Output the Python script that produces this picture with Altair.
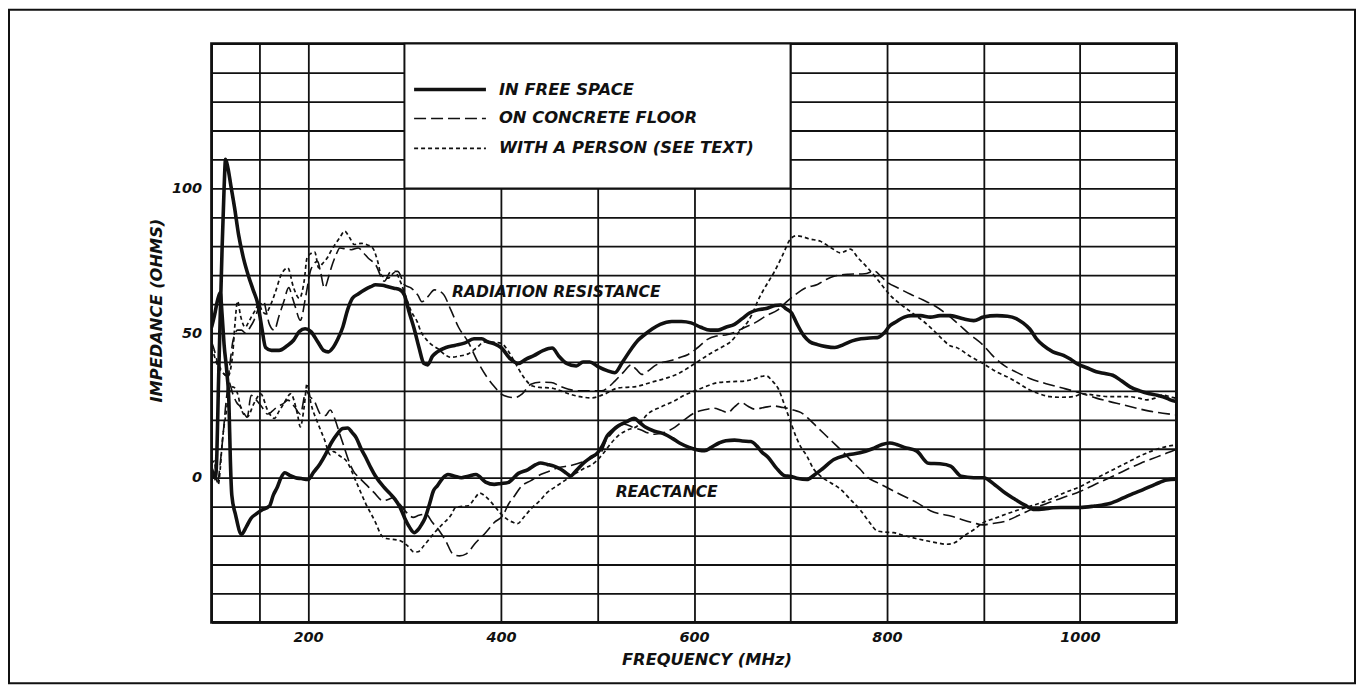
import altair as alt
import pandas as pd

# ---------------- data (frequency MHz, ohms) ----------------
r_free = [(100,3),(102,1),(104,0),(105.5,8),(107,30),(109,56),(111,80),(113,100),(114.5,110),(117,107),(120,101),(124,93),(128,84),(133,76),(138,70),(143,65),(148,60),(152,52),(156,45),(162,44),(170,44),(178,45.5),(185,47.5),(191,50.5),(197,51.5),(203,50.5),(210,47),(216,44),(221,43.5),(226,45),(231,48),(236,52),(241,58),(246,62),(252,63.5),(259,65),(265,66),(270,66.7),(277,66.5),(283,66),(289,65.5),(295,65),(300,63),(305,57),(310,51.5),(315,45),(320,39.5),(324,39),(329,42),(334,43.5),(343,45),(352,45.7),(362,46.5),(372,48),(380,48),(386,47),(393,46.3),(400,45),(410,41),(418,39.5),(426,41),(434,42.2),(444,44),(453,44.8),(460,42),(468,39.5),(478,38.6),(485,40),(492,40),(500,38.5),(510,37),(518,36.3),(526,40),(535,44.5),(542,47.5),(549,49.5),(557,51.5),(565,53),(577,54),(587,54),(597,53.5),(607,52),(617,51),(625,51),(633,52),(642,53),(650,55),(658,57),(666,58),(675,58.5),(684,59.5),(690,59.7),(695,58.5),(701,57),(707,53),(714,49),(720,47),(728,46),(737,45.3),(746,45),(755,46),(764,47.3),(773,48),(782,48.3),(790,48.4),(797,50),(803,52.5),(810,54),(818,55.5),(825,56),(835,56),(845,55.5),(855,56),(866,56),(878,55),(890,54.3),(900,55.5),(914,56),(925,55.8),(934,55),(941,53.5),(948,51.4),(955,48),(962,45.7),(972,43.5),(983,42.3),(990,41),(997,39.4),(1007,38),(1017,36.6),(1026,36),(1034,35.4),(1043,33.5),(1052,31.4),(1062,30),(1072,29),(1080,28.5),(1086,28),(1093,27),(1100,26.3)]

x_free = [(100,52),(103,56),(106,61),(109,64),(111,56),(113,46),(116,36),(118,26),(119.5,6),(121,-6),(125,-13),(131,-19.5),(136,-17),(141,-14),(146,-12.6),(153,-11),(160,-9.8),(164,-6),(168,-3.4),(172,0),(176,1.7),(181,0.8),(187,0),(193,-0.3),(200,-0.6),(206,2),(212,4.6),(218,8),(224,12),(230,15),(236,17),(241,17.2),(246,15.5),(250,13.8),(255,10),(260,6.9),(265,3.5),(270,0.5),(279,-3.4),(285,-5.5),(290,-7.4),(295,-10),(300,-13.8),(305,-17),(310,-19),(314,-18),(318,-16),(321,-14.2),(326,-9),(330,-4.5),(334,-2.8),(340,0),(345,1.1),(352,0.5),(359,0),(366,0.5),(374,1.1),(384,-1.5),(393,-2.3),(400,-2),(407,-1.7),(418,1.5),(428,2.8),(436,4.5),(441,5.1),(448,4.6),(455,4),(462,2.9),(468,1.5),(472,0.6),(478,2.5),(486,5.2),(493,7),(500,8.6),(505,11),(510,14.4),(516,16.5),(522,18),(531,19.5),(538,20.5),(544,19),(550,17.4),(560,16),(570,15),(578,13.5),(585,12),(595,10.5),(605,9.5),(611,9.3),(618,10.5),(626,12),(633,12.8),(642,13),(650,12.7),(659,12.5),(665,11),(670,9),(677,7),(685,3.5),(694,0.7),(700,0.5),(708,-0.3),(717,-0.6),(725,1),(733,3),(745,6.3),(758,7.8),(772,8.6),(785,10),(795,11.5),(803,12),(810,11.5),(818,10.5),(831,9.2),(843,5),(855,4.8),(866,4),(877,0.5),(890,0),(900,0),(912,-2.5),(923,-5.4),(933,-7.5),(943,-9.5),(953,-11),(963,-10.8),(972,-10.4),(980,-10.3),(990,-10.3),(1000,-10.3),(1015,-9.8),(1031,-8.9),(1045,-7),(1055,-5.5),(1065,-4.2),(1078,-2.3),(1090,-0.8),(1100,-0.5)]

r_concrete = [(100,47),(103,44),(106,40),(110,37.5),(114,35.5),(117,35),(120,42),(122,47),(127,51),(131,51),(135,50),(140,52),(144,54.4),(149,58.8),(154,61),(157,57),(160,53),(165,51),(170,56),(175,61),(180,65.7),(184,62),(187,58.8),(192,54.4),(198,63.4),(203,72),(210,74.8),(213,71),(217,65.5),(221,69),(224,72.5),(229,77),(233,79.4),(240,79),(245,78.8),(252,79.4),(258,77.5),(262,76),(270,73.6),(279,67.9),(286,71.3),(293,71.3),(300,66.7),(307,65.5),(314,63),(318,60.8),(324,62.5),(331,64.9),(336,64.5),(341,63.1),(348,58),(356,52),(366,46.9),(376,40),(385,35),(393,31.5),(400,29),(407,28),(414,27.7),(422,29),(431,32.3),(440,33),(452,32.9),(462,31.5),(470,30.6),(480,30),(490,30),(504,30),(512,31.5),(518,33.4),(527,36.5),(535,39),(540,37.5),(546,35.7),(553,37),(560,38.8),(566,39.7),(576,40.5),(585,41.5),(594,42.6),(604,45),(614,47.8),(624,49),(635,49.5),(644,50.5),(653,52),(663,53.5),(675,56),(687,58),(695,60.5),(704,63),(715,65.5),(728,66.8),(737,68.5),(746,69.7),(760,70.3),(777,70.5),(787,71.4),(794,69.5),(801,67.4),(812,65.5),(825,63.3),(837,61.5),(849,59.5),(860,57),(872,53.7),(886,49.5),(900,45.7),(910,42),(921,38.9),(934,36.5),(948,34.3),(965,32.5),(983,30.9),(1003,29),(1017,27.5),(1031,26.3),(1045,25.2),(1059,24),(1072,23),(1086,22.3),(1100,21.7)]

x_concrete = [(100,3),(103,0),(106,-2),(109,5),(112,15),(115,26),(118,33),(122,29),(126,26),(130,24.5),(137,21),(141,28.5),(146,27),(152,24.5),(158,22),(163,23),(168,24.5),(174,25.5),(179,26.8),(186,24.5),(192,22),(198,30),(202,28),(206,26.8),(213,22),(218,21.5),(223,23.4),(227,21),(232,16),(237,11),(242,6),(247,2.3),(253,0),(260,-2.3),(268,-5),(278,-8),(283,-7.5),(288,-6.9),(295,-9.1),(302,-12),(309,-13.7),(315,-13),(322,-12.6),(329,-15.5),(336,-18.3),(343,-22),(350,-26.3),(357,-27),(364,-26.3),(374,-22.4),(384,-19),(393,-15.5),(402,-13),(408,-9),(414,-6.3),(421,-3),(431,-1),(441,1.1),(448,2),(460,3.5),(472,4.2),(485,5.5),(495,7),(500,8),(504,8.9),(509,13),(514,15),(521,17.5),(528,18.5),(537,17.4),(546,16.4),(552,15.5),(559,15),(568,15.5),(580,17.4),(590,20),(601,22.5),(611,23.5),(621,24),(628,23.3),(635,22.5),(642,24.5),(649,26),(656,24.7),(663,23.7),(673,24.3),(683,24.8),(690,24.4),(697,24),(704,23.3),(711,22.5),(720,20),(728,17.4),(737,14.5),(746,11.6),(755,8.7),(763,5.9),(772,3),(780,0.1),(790,-1.7),(800,-3.4),(815,-6),(831,-8.6),(845,-11.4),(855,-12.5),(866,-13.2),(879,-14.6),(890,-15.6),(899,-16.3),(910,-15.8),(923,-15),(938,-12.8),(953,-10.5),(968,-8.6),(984,-6.7),(1000,-4.8),(1015,-2.4),(1031,0),(1047,2.6),(1063,5),(1080,7.2),(1090,8.5),(1100,9.8)]

r_person = [(100,45),(103,42),(106,39),(110,37),(114,35.5),(117,35),(120,38),(122,43),(124,52),(127,61),(130,56),(135,52),(138,53.5),(141,55.4),(145,57.7),(149,60),(152,58),(156,56.6),(160,58.8),(166,64),(172,70),(179,72.5),(185,65.7),(191,62),(196,68),(199,76),(203,77.5),(207,78),(211,72.5),(215,74),(220,76),(224,78.5),(228,80.6),(233,83),(238,85.2),(243,83),(248,80.6),(255,81),(261,80.5),(267,79.4),(272,75),(276,70),(283,69),(290,71),(297,66.7),(302,62),(307,57.5),(313,54),(317,50.5),(322,48),(328,46),(335,44.5),(342,42.5),(348,41.6),(356,42),(366,42.8),(375,45),(383,46.9),(392,46.8),(400,46.5),(407,44),(415,39.5),(423,35),(432,31.8),(440,31.2),(452,31),(462,30),(470,29),(482,28),(494,27.6),(508,29),(521,31),(540,31.5),(556,33),(573,34.6),(584,36),(594,38),(608,41),(620,43.5),(631,45.5),(638,47),(647,50.5),(656,54),(661,57),(666,61),(674,66),(683,71),(692,77),(700,82.5),(706,83.6),(711,83.4),(720,82.5),(731,81.7),(742,79.5),(752,77.7),(757,78.3),(762,79),(770,76),(780,72.5),(789,69),(797,65.6),(805,62.5),(814,60),(826,57),(838,54),(848,51),(857,48),(866,45.5),(872,45),(886,42),(900,39.4),(914,36.5),(928,34.3),(938,32.3),(948,30.3),(958,29),(969,28),(981,27.8),(993,28),(1003,29),(1016,28.5),(1031,28),(1042,28),(1052,28),(1061,27.5),(1069,26.9),(1078,27.5),(1086,28.6),(1093,28),(1100,27.4)]

x_person = [(100,5),(103,5.7),(105,0),(107,-2.3),(109,3),(111,12),(113,18),(115,22),(117,27),(120,31),(122,31.4),(127,29),(131,23.4),(137,21),(144,25.7),(151,29),(158,23.4),(165,20.5),(170,23),(175,25.7),(182,29),(189,22),(192,17.6),(196,24.5),(199,32.5),(203,25.7),(210,19),(217,13.2),(223,8),(226,9),(233,7.5),(240,5.7),(250,-1.5),(260,-9.1),(270,-15.5),(276,-19.9),(281,-21),(288,-21.3),(295,-21.7),(303,-23.5),(310,-25.7),(314,-25.6),(320,-23.5),(329,-19.8),(338,-16.5),(348,-13),(353,-10.3),(358,-10),(366,-9.7),(372,-7.5),(378,-5.3),(384,-6.5),(393,-9.7),(400,-12.5),(407,-14.5),(413,-15.5),(417,-15.9),(424,-13.5),(431,-10.8),(440,-8),(448,-5.1),(457,-3),(466,-1),(475,1),(485,3),(497,5.2),(505,8),(513,11.5),(521,14.4),(531,16.5),(541,17.8),(552,22),(566,24.5),(580,26.6),(590,28.5),(601,30),(612,31.5),(625,32.9),(639,33.2),(652,33.4),(663,34.2),(670,35),(675,35.2),(681,33.5),(687,31),(694,25),(701,18.5),(706,14),(711,10.5),(717,7.5),(724,3),(731,0.6),(742,-1.8),(752,-4),(762,-7.5),(772,-11),(781,-15),(790,-18.4),(798,-18.8),(807,-19),(818,-20),(830,-21),(841,-21.8),(852,-22.5),(862,-23),(870,-22.5),(879,-20.3),(890,-18),(899,-15.7),(912,-14),(926,-12.3),(940,-10.7),(953,-9.4),(968,-7.6),(984,-5.2),(1000,-3.1),(1015,-0.5),(1031,2.2),(1047,4.9),(1063,7.6),(1081,10),(1090,10.8),(1100,11.3)]

condition_labels = ["IN FREE SPACE", "ON CONCRETE FLOOR", "WITH A PERSON (SEE TEXT)"]
curve_labels = ["RADIATION RESISTANCE", "REACTANCE"]
x_grid = [100, 150, 200, 300, 400, 500, 600, 700, 800, 900, 1000, 1100]
x_labels = [200, 400, 600, 800, 1000]
y_grid = [-50, -40, -30, -20, -10, 0, 10, 20, 30, 40, 50, 60, 70, 80, 90, 100, 110, 120, 130, 140, 150]
y_labels = [0, 50, 100]
legend_box_f = [300, 700]
legend_box_v = [100, 150]


def to_frame(pairs, cond, curve):
    return pd.DataFrame({"f": [p[0] for p in pairs], "v": [p[1] for p in pairs],
                         "cond": cond, "curve": curve})


df_free = pd.concat([to_frame(r_free, condition_labels[0], curve_labels[0]),
                     to_frame(x_free, condition_labels[0], curve_labels[1])])
df_conc = pd.concat([to_frame(r_concrete, condition_labels[1], curve_labels[0]),
                     to_frame(x_concrete, condition_labels[1], curve_labels[1])])
df_pers = pd.concat([to_frame(r_person, condition_labels[2], curve_labels[0]),
                     to_frame(x_person, condition_labels[2], curve_labels[1])])

FONT = "DejaVu Sans"
INK = "#111111"
GRID_W = 1.8

x_scale = alt.Scale(domain=[100, 1100], nice=False, zero=False)
y_scale = alt.Scale(domain=[-50, 150], nice=False, zero=False)

common_axis = dict(grid=True, gridColor=INK, gridWidth=GRID_W, gridOpacity=1,
                   ticks=False, tickSize=0, domain=False, format="d",
                   labelFont=FONT, labelFontSize=14.5, labelFontStyle="italic",
                   labelFontWeight="bold", labelColor=INK, labelOverlap=False,
                   titleFont=FONT, titleFontSize=16.3, titleFontStyle="italic",
                   titleFontWeight="bold", titleColor=INK)

x_axis = alt.Axis(values=x_grid,
                  labelExpr=f"indexof({x_labels}, datum.value) >= 0 ? datum.label : ''",
                  labelPadding=15, labelBaseline="middle", labelFlush=False,
                  title="FREQUENCY (MHz)", titleX=496, titleY=37,
                  titleAlign="center", titleBaseline="middle", **common_axis)
y_axis = alt.Axis(values=y_grid,
                  labelExpr=f"indexof({y_labels}, datum.value) >= 0 ? datum.label : ''",
                  labelPadding=10, labelFlush=False,
                  title="IMPEDANCE (OHMS)", titleAngle=270, titleX=-55, titleY=267,
                  titleAlign="center", titleBaseline="middle", **common_axis)

X = alt.X("f:Q", scale=x_scale, axis=x_axis)
Y = alt.Y("v:Q", scale=y_scale, axis=y_axis)

# white legend panel (no grid inside)
box_df = pd.DataFrame({"f": [legend_box_f[0]], "f2": [legend_box_f[1]],
                       "v": [legend_box_v[0]], "v2": [legend_box_v[1]]})
box = alt.Chart(box_df).mark_rect(fill="white", stroke=INK, strokeWidth=GRID_W).encode(
    x=X, x2="f2:Q", y=Y, y2="v2:Q")


def curve_layer(d, width, dash):
    kw = dict(interpolate="monotone", clip=True, color=INK, strokeWidth=width,
              strokeJoin="round", strokeCap="butt")
    if dash:
        kw["strokeDash"] = dash
    return alt.Chart(d).mark_line(**kw).encode(x=X, y=Y, detail="curve:N", order="f:Q")


SOLID_W, DASH_W, DOT_W = 3.6, 1.6, 1.7
DASH, DOT = [12, 5], [4, 3]

lines_free = curve_layer(df_free, SOLID_W, None)
lines_conc = curve_layer(df_conc, DASH_W, DASH)
lines_pers = curve_layer(df_pers, DOT_W, DOT)

one = pd.DataFrame({"k": [0]})
text_style = dict(font=FONT, fontStyle="italic", fontWeight="bold", color=INK,
                  align="left", baseline="middle")

legend_rows = [(46, SOLID_W, None), (75, DASH_W, DASH), (105, DOT_W, DOT)]
legend_layers = []
for (ly, w, dash), lab in zip(legend_rows, condition_labels):
    kw = dict(color=INK, strokeWidth=w, strokeCap="butt")
    if dash:
        kw["strokeDash"] = dash
    legend_layers.append(alt.Chart(one).mark_rule(**kw).encode(
        x=alt.value(203), x2=alt.value(275), y=alt.value(ly)))
    legend_layers.append(alt.Chart(one).mark_text(fontSize=16.4, **text_style).encode(
        x=alt.value(288), y=alt.value(ly), text=alt.value(lab)))

ann_rad = alt.Chart(one).mark_text(fontSize=15.6, **text_style).encode(
    x=alt.value(241), y=alt.value(249), text=alt.value(curve_labels[0]))
ann_rea = alt.Chart(one).mark_text(fontSize=15.6, **text_style).encode(
    x=alt.value(405), y=alt.value(449), text=alt.value(curve_labels[1]))

page_frame = alt.Chart(one).mark_rect(filled=False, stroke=INK, strokeWidth=2).encode(
    x=alt.value(-203), x2=alt.value(1146), y=alt.value(-34), y2=alt.value(641))

chart = alt.layer(box, lines_pers, lines_conc, lines_free, *legend_layers,
                  ann_rad, ann_rea, page_frame).properties(
    width=967, height=580,
    autosize=alt.AutoSizeParams(type="none"),
    padding={"left": 204, "top": 35, "right": 181, "bottom": 63},
    background="white",
).configure_view(stroke=INK, strokeWidth=2.8)

chart.save("out.html", embed_options={"renderer": "svg", "actions": False})
